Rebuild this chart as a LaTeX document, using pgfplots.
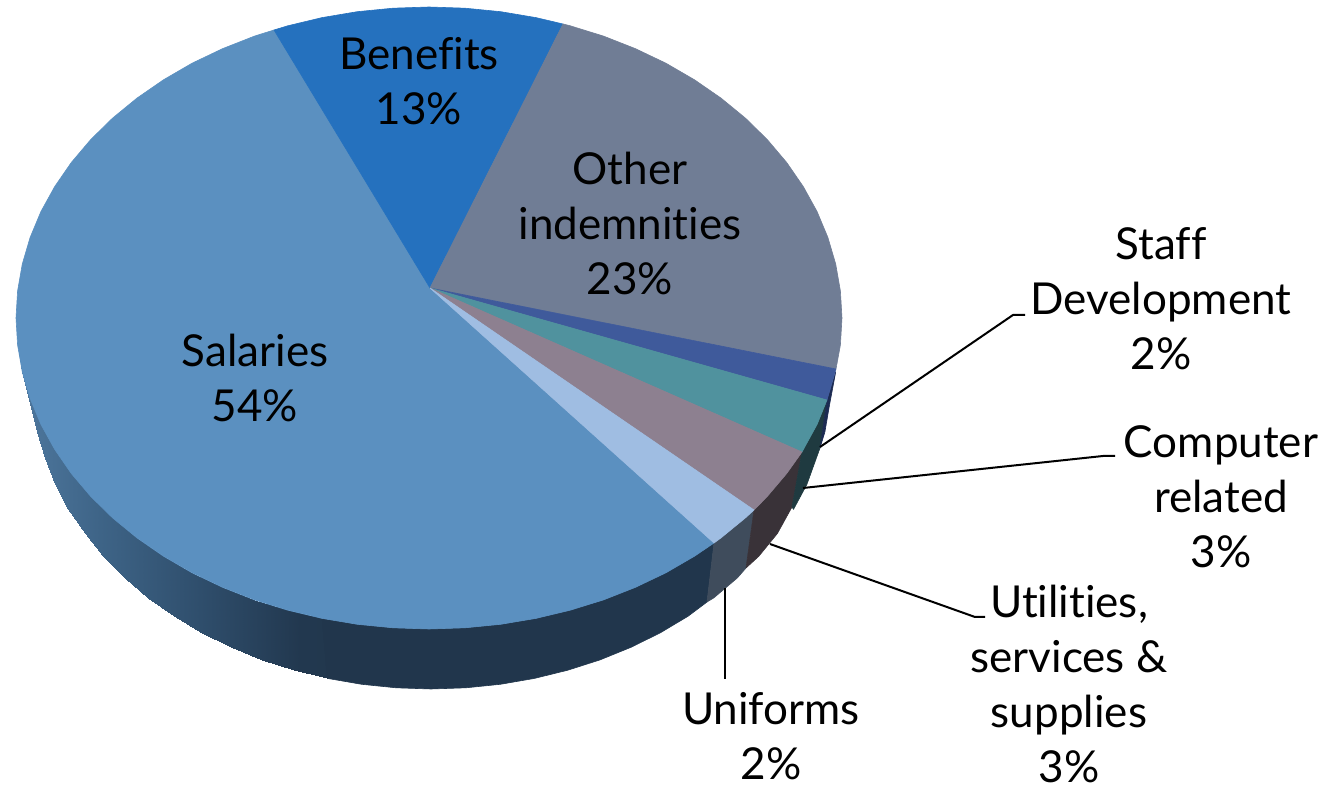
\documentclass[border=0pt]{standalone}
\usepackage{fontspec}
\setmainfont{Lato}[Ligatures=NoCommon]
\usepackage{pgfplots}
\usepgfplotslibrary{patchplots}
\pgfplotsset{compat=1.18}
% top face colours
\definecolor{fSal}{RGB}{91,144,192}
\definecolor{fBen}{RGB}{37,113,190}
\definecolor{fOth}{RGB}{112,125,149}
\definecolor{fSta}{RGB}{63,90,155}
\definecolor{fCom}{RGB}{80,146,158}
\definecolor{fUti}{RGB}{141,128,144}
\definecolor{fUni}{RGB}{159,189,226}
% side wall colours
\definecolor{wSal}{RGB}{33,54,76}
\definecolor{wUni}{RGB}{63,76,92}
\definecolor{wUti}{RGB}{57,50,56}
\definecolor{wCom}{RGB}{31,58,64}
\definecolor{wSta}{RGB}{28,43,82}
\pgfplotsset{
  slice/.style={fill=#1,draw=#1,line width=0.3pt,line join=round,no markers,forget plot},
  leader/.style={black,line width=1pt,no markers,forget plot,line join=round},
}
\tikzset{lab/.style={font=\fontsize{22}{27.5}\selectfont,align=center,inner sep=0pt,text=black}}
\begin{document}
\begin{tikzpicture}
\begin{axis}[
  scale only axis,
  width=670.5pt,height=395pt,
  xmin=0,xmax=1341,ymin=0,ymax=790,
  y dir=reverse,
  hide axis,
  clip=false,
  point meta min=0,point meta max=400,
  colormap={sidewall}{rgb255=(82,124,163) rgb255=(62,100,135) rgb255=(47,78,108) rgb255=(34,56,79) rgb255=(33,54,76)},
]
% outer wall: shaded left part of the largest slice
\addplot[patch,patch type=rectangle,shader=interp,point meta=x,forget plot] coordinates {
 (17.6,345.1)(22.3,372)(37.1,432)(32.5,405.1)
 (22.3,372)(30.1,398.5)(44.6,458.5)(37.1,432)
 (30.1,398.5)(40.9,424.4)(55.1,484.4)(44.6,458.5)
 (40.9,424.4)(54.7,449.4)(68.5,509.4)(55.1,484.4)
 (54.7,449.4)(71.3,473.5)(84.6,533.5)(68.5,509.4)
 (71.3,473.5)(90.7,496.4)(103.3,556.4)(84.6,533.5)
 (90.7,496.4)(112.6,517.9)(124.6,577.9)(103.3,556.4)
 (112.6,517.9)(137,537.9)(148.2,597.9)(124.6,577.9)
 (137,537.9)(163.5,556.2)(173.9,616.2)(148.2,597.9)
 (163.5,556.2)(192.1,572.8)(201.6,632.8)(173.9,616.2)
 (192.1,572.8)(222.5,587.3)(231,647.3)(201.6,632.8)
 (222.5,587.3)(254.5,599.9)(262,659.9)(231,647.3)
 (254.5,599.9)(287.8,610.2)(294.2,670.2)(262,659.9)
 (287.8,610.2)(322.1,618.4)(327.5,678.4)(294.2,670.2)
};
% outer wall: flat sections
\addplot[slice=wSal] coordinates {
 (322.1,618.4)(357.3,624.3)(393,627.8)(429,629)(465,627.8)(500.7,624.3)(535.9,618.4)(570.2,610.2)(603.5,599.9)(635.5,587.3)(665.9,572.8)(694.5,556.2)(714,543)
 (707,602)(688.1,616.2)(660.4,632.8)(631,647.3)(600,659.9)(567.8,670.2)(534.5,678.4)(500.4,684.3)(465.9,687.8)(431,689)(396.1,687.8)(361.6,684.3)(327.5,678.4)
 (322.1,618.4)};
\addplot[slice=wUni] coordinates {(714,543)(721,537.9)(745.4,517.9)(754,510)(746,568)(737.4,577.9)(713.8,597.9)(707,602)(714,543)};
\addplot[slice=wUti] coordinates {(754,510)(767.3,496.4)(786.7,473.5)(802,452)(792,507)(777.4,533.5)(758.7,556.4)(746,568)(754,510)};
\addplot[slice=wCom] coordinates {(802,452)(817.1,424.4)(827,400)(820,448)(806.9,484.4)(793.5,509.4)(792,507)(802,452)};
\addplot[slice=wSta] coordinates {(827,400)(835.7,372)(829.5,405.1)(824.9,432)(820,448)(827,400)};
% top face
\addplot[slice=fSal] coordinates {
 (430,288)(714,543)(694.5,556.2)(665.9,572.8)(635.5,587.3)(603.5,599.9)(570.2,610.2)(535.9,618.4)(500.7,624.3)(465,627.8)(429,629)(393,627.8)(357.3,624.3)(322.1,618.4)(287.8,610.2)(254.5,599.9)(222.5,587.3)(192.1,572.8)(163.5,556.2)(137,537.9)(112.6,517.9)(90.7,496.4)(71.3,473.5)(54.7,449.4)(40.9,424.4)(30.1,398.5)(22.3,372)(17.6,345.1)(16,318)(17.6,290.9)(22.3,264)(30.1,237.5)(40.9,211.6)(54.7,186.6)(71.3,162.5)(90.7,139.6)(112.6,118.1)(137,98.1)(163.5,79.8)(192.1,63.2)(222.5,48.7)(254.5,36.1)(274,30)(430,288)};
\addplot[slice=fBen] coordinates {
 (430,288)(274,30)(287.8,25.8)(322.1,17.6)(357.3,11.7)(393,8.2)(429,7)(465,8.2)(500.7,11.7)(535.9,17.6)(563,24)(430,288)};
\addplot[slice=fOth] coordinates {
 (430,288)(563,24)(570.2,25.8)(603.5,36.1)(635.5,48.7)(665.9,63.2)(694.5,79.8)(721,98.1)(745.4,118.1)(767.3,139.6)(786.7,162.5)(803.3,186.6)(817.1,211.6)(827.9,237.5)(835.7,264)(840.4,290.9)(842,318)(840.4,345.1)(836,369)(430,288)};
\addplot[slice=fSta] coordinates {(430,288)(836,369)(827,400)(430,288)};
\addplot[slice=fCom] coordinates {(430,288)(827,400)(817.1,424.4)(802,452)(430,288)};
\addplot[slice=fUti] coordinates {(430,288)(802,452)(786.7,473.5)(767.3,496.4)(754,510)(430,288)};
\addplot[slice=fUni] coordinates {(430,288)(754,510)(745.4,517.9)(721,537.9)(714,543)(430,288)};
% leader lines
\addplot[leader] coordinates {(820,447)(1013,315)(1025,315)};
\addplot[leader] coordinates {(803,488)(1103,456)(1115,456)};
\addplot[leader] coordinates {(770,544)(975,617)(985,617)};
\addplot[leader] coordinates {(725,588)(725,679)};
% slice labels
\node[lab] at (axis cs:419,81) {Benefits\\13\%};
\node[lab] at (axis cs:630,223) {Other\\indemnities\\23\%};
\node[lab] at (axis cs:255,378) {Salaries\\54\%};
\node[lab] at (axis cs:1161,299) {Staff\\Development\\2\%};
\node[lab] at (axis cs:1221,497) {Computer\\related\\3\%};
\node[lab] at (axis cs:1069,684) {Utilities,\\services \&\\supplies\\3\%};
\node[lab] at (axis cs:771,736) {Uniforms\\2\%};
% page frame
\path[use as bounding box] (axis cs:0,0) rectangle (axis cs:1341,790);
\end{axis}
\end{tikzpicture}
\end{document}
